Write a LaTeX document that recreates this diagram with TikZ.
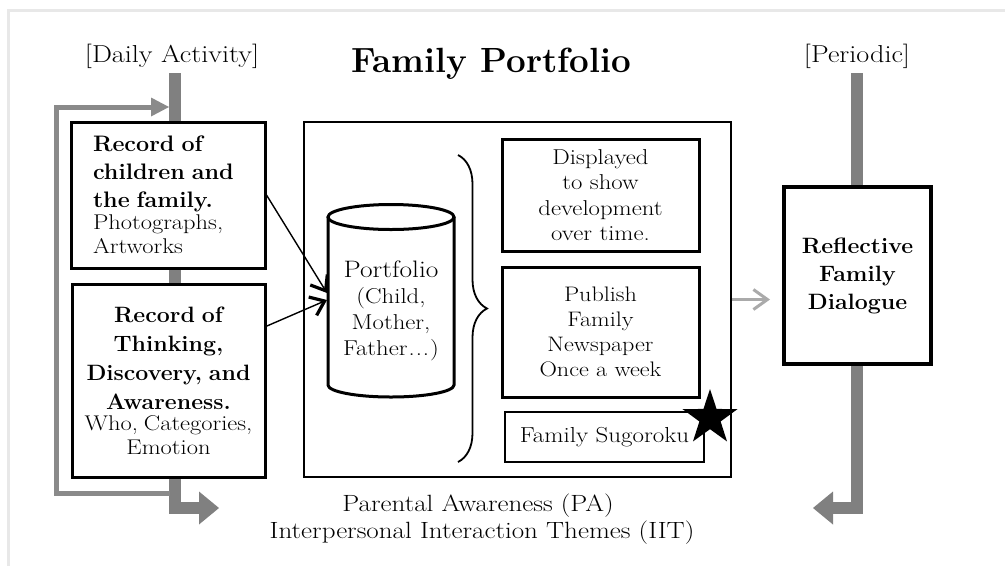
\documentclass[tikz,border=0pt]{standalone}
\usepackage{fontspec}
\setmainfont{Latin Modern Roman}[FakeStretch=1.15]
\newfontfamily\titlefont{Latin Modern Roman}
\newfontfamily\heavyfont{Latin Modern Roman}[FakeStretch=1.04]
\usetikzlibrary{arrows.meta,shapes.geometric,decorations.pathreplacing}
\definecolor{barc}{HTML}{808080}
\definecolor{loopc}{HTML}{8A8A8A}
\definecolor{lgrayc}{HTML}{AAAAAA}
\definecolor{framec}{HTML}{E8E8E8}
\begin{document}
\begin{tikzpicture}[x=1pt,y=-1pt,
  box/.style={draw, line width=3pt, fill=white, inner sep=0pt},
  bigbar/.style={draw=barc, line width=12pt, line join=miter, -{Triangle[length=20pt,width=33pt,line width=0pt]}},
  loopbar/.style={draw=loopc, line width=5pt, line join=miter, -{Triangle[length=18pt,width=19pt,line width=0pt]}},
  feed/.style={line width=1.4pt, -{Straight Barb[length=13pt,width=20pt,line width=3.2pt]}},
  lbl/.style={font=\fontsize{24.5}{28}\selectfont, inner sep=0pt, anchor=base},
  bodytext/.style={font=\fontsize{21.5}{25.5}\selectfont, align=center}
]
\useasboundingbox (0,0) rectangle (1005,566);
\fill[white] (0,0) rectangle (1005,566);
\draw[framec, line width=3pt] (8,566) -- (8,10) -- (1005,10);

% flow bars
\draw[bigbar] (175,73) -- (175,508) -- (219,508);
\draw[loopbar] (170,493) -- (56,493) -- (56,107) -- (169,107);
\draw[bigbar] (857,73) -- (857,508) -- (813,508);

% labels
\node[lbl] (daily) at (172,62) {[Daily Activity]};
\node[lbl] (periodic) at (857,62) {[Periodic]};
\node[font=\titlefont\bfseries\fontsize{35}{40}\selectfont, inner sep=0pt, anchor=base] (title) at (491,72) {Family Portfolio};
\node[lbl, font=\fontsize{23.5}{28}\selectfont] (pa) at (478,511) {Parental Awareness (PA)};
\node[lbl, font=\fontsize{23.5}{28}\selectfont] (iit) at (482,538) {Interpersonal Interaction Themes (IIT)};

% left boxes
\node[box, minimum width=194pt, minimum height=146pt, text width=150pt, align=left] (rec1) at (168,195)
 {\heavyfont\bfseries\fontsize{22.4}{28}\selectfont\spaceskip=7pt Record of\\children and\\the family.\par\vspace{-2pt}%
  \normalfont\fontsize{21.3}{24}\selectfont\spaceskip=0pt Photographs,\\Artworks\par};
\node[box, minimum width=193pt, minimum height=193pt, text width=185pt, align=center] (rec2) at (168.5,380.5)
 {\heavyfont\bfseries\fontsize{22.2}{29}\selectfont\spaceskip=7pt Record of\\Thinking,\\Discovery, and\\Awareness.\par\vspace{-2pt}%
  \normalfont\fontsize{21.3}{23.5}\selectfont\spaceskip=6pt Who, Categories,\\Emotion\par};

% main box
\node[box, line width=2.6pt, minimum width=427pt, minimum height=355pt] (main) at (517.5,299.5) {};

% cylinder
\fill[white] (328,217) -- (328,385) arc[start angle=180,end angle=0,x radius=63,y radius=12] -- (454,217) -- cycle;
\draw[line width=3pt] (328,217) -- (328,385) arc[start angle=180,end angle=0,x radius=63,y radius=12] -- (454,217);
\draw[line width=3pt] (391,217) ellipse [x radius=63, y radius=12.5];
\node[font=\fontsize{21.5}{26}\selectfont, align=center] (port) at (391,311)
 {{\fontsize{23.8}{26}\selectfont Portfolio}\\(Child,\\Mother,\\Father\kern1pt.\kern1pt.\kern1pt.\kern1pt)};
\coordinate (tipA) at (327,293);
\coordinate (tipB) at (327,300);

% brace
\draw[line width=1.8pt, decorate, decoration={brace, amplitude=29pt}] (458,155) -- (458,462);

% right-hand inner boxes
\node[box, minimum width=197pt, minimum height=112pt, bodytext] (disp) at (600.5,195)
 {Displayed\\to show\\development\\over time.};
\node[box, minimum width=197pt, minimum height=130pt, bodytext, font=\fontsize{21}{25}\selectfont] (news) at (600.5,332)
 {Publish\\Family\\Newspaper\\Once a week};
\node[box, line width=2.6pt, minimum width=199pt, minimum height=50pt, bodytext, font=\fontsize{21.7}{25}\selectfont] (sugo) at (604.5,437)
 {Family Sugoroku};
\node[star, star points=5, star point ratio=2.6, fill=black, minimum size=58pt, inner sep=0pt] (star) at (710,418) {};

% reflective dialogue
\node[box, line width=4pt, minimum width=147pt, minimum height=177pt, align=center,
      font=\heavyfont\bfseries\fontsize{22.2}{28}\selectfont] (refl) at (857.5,275.5) {Reflective\\Family\\Dialogue};

% connectors
\draw[feed] (rec1.east) -- (tipA);
\draw[feed] (rec2.29) -- (tipB);
\draw[lgrayc, line width=3pt, shorten >=12pt, -{Straight Barb[length=14pt,width=20pt]}] (main.east) -- (main.east -| refl.west);
\end{tikzpicture}
\end{document}
